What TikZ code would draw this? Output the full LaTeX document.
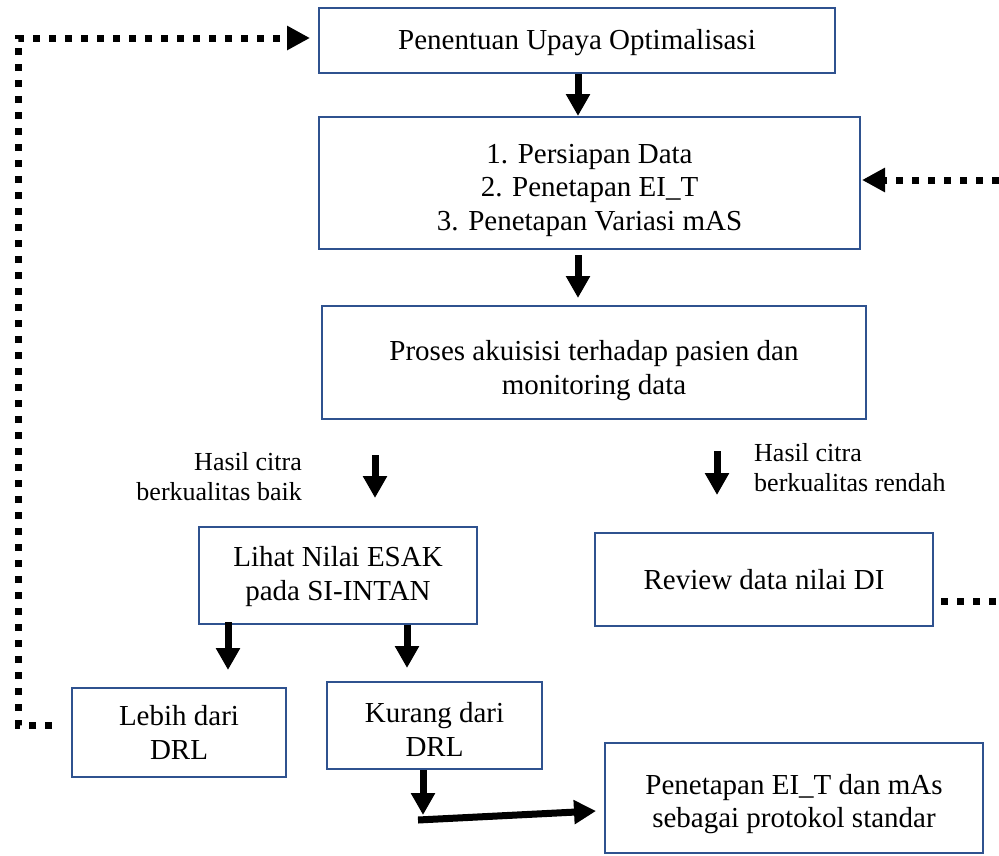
\documentclass[tikz,border=0pt]{standalone}
\usepackage{fontspec}
\setmainfont{Liberation Serif}
\usetikzlibrary{arrows.meta}
\definecolor{boxblue}{RGB}{47,82,143}
\begin{document}
\begin{tikzpicture}[x=1pt,y=-1pt,
 box/.style={draw=boxblue, line width=2pt, inner sep=0pt},
 txt/.style={align=center, inner sep=0pt, font=\fontsize{29}{33.5}\selectfont},
 lbl/.style={inner sep=0pt, font=\fontsize{26}{30}\selectfont},
 fat/.style={line width=7pt, -{Triangle[width=23pt,length=22pt]}},
 dots/.style={line width=7pt, dash pattern=on 7pt off 9pt},
 dotarrow/.style={dots, -{Triangle[width=23pt,length=23pt]}}]
\useasboundingbox (0,0) rectangle (999,855);
% boxes
\node[box, minimum width=516pt, minimum height=65pt] (b1) at (577,40.5) {};
\node[box, minimum width=541pt, minimum height=132pt] (b2) at (589.5,183) {};
\node[box, minimum width=544pt, minimum height=113pt] (b3) at (594,362.5) {};
\node[box, minimum width=278pt, minimum height=97pt] (b4) at (338,575.5) {};
\node[box, minimum width=338pt, minimum height=93pt] (b5) at (764,579.5) {};
\node[box, minimum width=214pt, minimum height=89pt] (b6) at (179,732.5) {};
\node[box, minimum width=215pt, minimum height=87pt] (b7) at (434.5,725.5) {};
\node[box, minimum width=378pt, minimum height=110pt] (b8) at (794,798) {};
% box texts
\node[txt] (t1) at (577,42.5) {Penentuan Upaya Optimalisasi};
\node[txt] (t2) at (589.5,190) {1. Persiapan Data\\2. Penetapan EI\_T\\3. Penetapan Variasi mAS};
\node[txt] (t3) at (594,370.5) {Proses akuisisi terhadap pasien dan\\monitoring data};
\node[txt] (t4) at (338,576.5) {Lihat Nilai ESAK\\pada SI-INTAN};
\node[txt] (t5) at (764,579.5) {Review data nilai DI};
\node[txt] (t6) at (179,732.5) {Lebih dari\\DRL};
\node[txt] (t7) at (434.5,729.5) {Kurang dari\\DRL};
\node[txt] (t8) at (794,804) {Penetapan EI\_T dan mAs\\sebagai protokol standar};
% labels
\node[lbl, anchor=east, align=right] (l1) at (302,477) {Hasil citra\\berkualitas baik};
\node[lbl, anchor=west, align=left] (l2) at (754,467.5) {Hasil citra\\berkualitas rendah};
% arrow coordinates
\coordinate (x1) at (578,0);
\coordinate (a2s) at (578,255); \coordinate (a2e) at (578,298);
\coordinate (a3s) at (375,455); \coordinate (a3e) at (375,498);
\coordinate (a4s) at (717,451); \coordinate (a4e) at (717,495);
\coordinate (x5) at (228,0); \coordinate (a5e) at (228,670);
\coordinate (x6) at (407,0); \coordinate (a6e) at (407,668);
\coordinate (x7) at (423,0); \coordinate (a7e) at (423,815);
\coordinate (h1) at (418,820); \coordinate (h2) at (596,811);
% arrows
\draw[fat] (b1.south -| x1) -- (b2.north -| x1);
\draw[fat] (a2s) -- (a2e);
\draw[fat] (a3s) -- (a3e);
\draw[fat] (a4s) -- (a4e);
\draw[fat] ([yshift=3pt]b4.south -| x5) -- (a5e);
\draw[fat] (b4.south -| x6) -- (a6e);
\draw[fat] (b7.south -| x7) -- (a7e);
\draw[fat] (h1) -- (h2);
% dotted feedback lines
\coordinate (d1) at (52,725); \coordinate (d2) at (18,725);
\coordinate (d3) at (18,38); \coordinate (d4) at (310,38);
\draw[dotarrow] (d1) -- (d2) -- (d3) -- (d4);
\coordinate (r1) at (999,180); \coordinate (r2) at (862,180);
\draw[dotarrow] (r1) -- (r2);
\coordinate (r3) at (941,601); \coordinate (r4) at (999,601);
\draw[dots] (r3) -- (r4);
\end{tikzpicture}
\end{document}
